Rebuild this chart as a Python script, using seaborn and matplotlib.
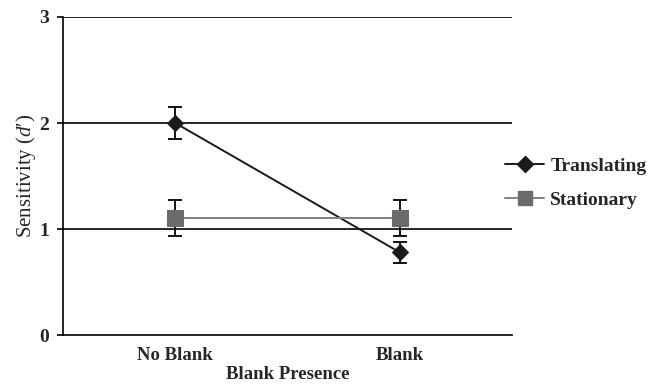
import matplotlib
matplotlib.use("Agg")
import matplotlib.pyplot as plt
import seaborn as sns
import pandas as pd
from matplotlib.lines import Line2D

conditions = ["No Blank", "Blank"]
series_names = ["Translating", "Stationary"]
translating = [2.00, 0.78]
translating_err = [0.15, 0.10]
stationary = [1.10, 1.10]
stationary_err = [0.17, 0.17]
y_ticks = [0, 1, 2, 3]

sns.set_theme(style="white")
plt.rcParams["font.family"] = ["Liberation Serif", "DejaVu Serif"]
plt.rcParams["mathtext.fontset"] = "custom"
plt.rcParams["mathtext.it"] = "Liberation Serif:italic"
plt.rcParams["mathtext.rm"] = "Liberation Serif"

df = pd.DataFrame({
    "cond": conditions * 2,
    "val": translating + stationary,
    "series": [series_names[0]] * 2 + [series_names[1]] * 2,
})

fig = plt.figure(figsize=(6.55, 3.85), dpi=100)
ax = fig.add_axes([63 / 655, 50 / 385, 449 / 655, 318 / 385])

# error bars (black)
ax.errorbar(conditions, stationary, yerr=stationary_err, fmt="none", ecolor="black",
            elinewidth=1.3, capsize=5, capthick=1.3, zorder=2)
ax.errorbar(conditions, translating, yerr=translating_err, fmt="none", ecolor="black",
            elinewidth=1.3, capsize=5, capthick=1.3, zorder=2)

sns.lineplot(data=df, x="cond", y="val", hue="series", style="series",
             hue_order=series_names, style_order=series_names,
             palette={"Translating": "#1a1a1a", "Stationary": "#808080"},
             markers={"Translating": "D", "Stationary": "s"}, dashes=False,
             markersize=10, linewidth=1.4, ax=ax, zorder=3, legend=False)

for ln in ax.get_lines():
    if ln.get_marker() == "s":
        ln.set_markerfacecolor("#6b6b6b")
        ln.set_markeredgecolor("#6b6b6b")
        ln.set_markersize(11)
    elif ln.get_marker() == "D":
        ln.set_markerfacecolor("#1a1a1a")
        ln.set_markeredgecolor("#1a1a1a")
        ln.set_markersize(8)

ax.set_xlim(-0.5, 1.5)
ax.set_ylim(0, 3)
ax.set_yticks(y_ticks)
ax.set_yticklabels([str(t) for t in y_ticks], fontsize=14, fontweight="bold")
ax.tick_params(axis="x", length=0, labelsize=13.5, pad=9)
for lab in ax.get_xticklabels():
    lab.set_fontweight("bold")
ax.tick_params(axis="y", length=4.5, width=1.2, color="black", direction="out", pad=5.5, left=True)

for y in y_ticks[1:]:
    ax.axhline(y, color="black", linewidth=1.2, zorder=1)

for s in ["top", "right"]:
    ax.spines[s].set_visible(False)
for s in ["left", "bottom"]:
    ax.spines[s].set_color("black")
    ax.spines[s].set_linewidth(1.2)

ax.set_xlabel("Blank Presence", fontsize=13.5, fontweight="bold", labelpad=1)
ax.set_ylabel("Sensitivity ($d$′)", fontsize=15, labelpad=1)

handles = [
    Line2D([0], [0], color="#1a1a1a", marker="D", markersize=8, linewidth=1.4,
           markerfacecolor="#1a1a1a", markeredgecolor="#1a1a1a"),
    Line2D([0], [0], color="#808080", marker="s", markersize=10, linewidth=1.4,
           markerfacecolor="#6b6b6b", markeredgecolor="#6b6b6b"),
]
fig.legend(handles, series_names, loc="center left", bbox_to_anchor=(0.745, 0.525),
           frameon=False, prop={"family": "Liberation Serif", "weight": "bold", "size": 14},
           handlelength=2.0, handletextpad=0.3, labelspacing=0.85)

fig.savefig("out.png", dpi=100)
